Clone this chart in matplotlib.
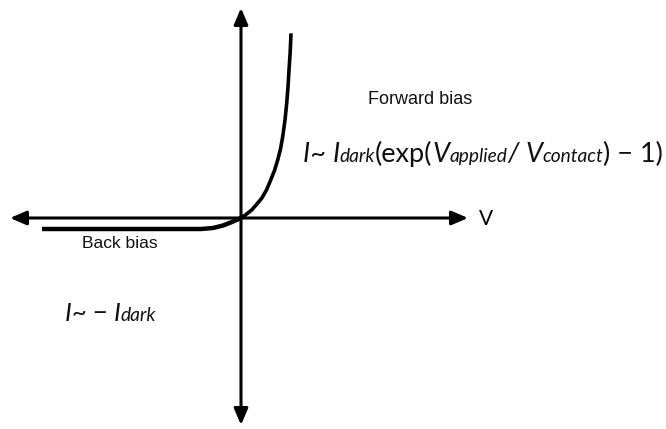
import matplotlib
matplotlib.use("Agg")
import matplotlib.pyplot as plt
from matplotlib.offsetbox import TextArea, HPacker, AnnotationBbox

# curve, pixels relative to the axes crossing
fwd_v = [0, 5, 10.7, 15.5, 20.7, 25.5, 29.7, 33.5, 36.7, 39.5, 41.7, 44, 45.7, 47, 48, 49.2, 50]
fwd_i = [0, 3.5, 8, 13.5, 19.7, 28, 38, 47.5, 58, 69, 81.3, 98, 114.7, 131, 148, 166, 184.7]
rev_v = [-199, -60, -40, -28, -18, -9, 0]
rev_i = [-11, -11, -11, -10, -7.5, -4, 0]

# arrow ends of the two axes
ax_left, ax_right = -231, 227
ax_top, ax_bottom = 210, -207

# pieces of the two formulas: (text, style, size)
fwd_formula = [("I~ ", "italic", 19.5), ("I", "italic", 19.5), ("dark", "italic", 13.8),
               ("(exp(", "normal", 19.5), ("V", "italic", 19.5), ("applied", "italic", 13.8),
               ("/ ", "italic", 19.5), ("V", "italic", 19.5), ("contact", "italic", 13.8),
               (") \u2212 1)", "normal", 19.5)]
back_formula = [("I~ \u2212 ", "italic", 18.5), ("I", "italic", 18.5), ("dark", "italic", 13.8)]

fig = plt.figure(figsize=(6.66, 4.29), dpi=100)
ax = fig.add_axes([0, 0, 1, 1])
ax.set_xlim(-241, 425)
ax.set_ylim(-211, 218)
ax.axis("off")

arrow = dict(arrowstyle="-|>,head_length=0.7,head_width=0.3", color="black",
             lw=2.2, mutation_scale=14, shrinkA=0, shrinkB=0)
for end in [(ax_left, 0), (ax_right, 0), (0, ax_top), (0, ax_bottom)]:
    ax.annotate("", xy=end, xytext=(0, 0), arrowprops=arrow)

ax.plot(fwd_v, fwd_i, color="black", lw=2.6, solid_capstyle="butt")
ax.plot(rev_v, rev_i, color="black", lw=3.2, solid_capstyle="butt")

ax.text(245, -1, "V", fontsize=15, family="Lato", ha="center", va="center")
ax.text(179, 118, "Forward bias", fontsize=13, family="Liberation Sans",
        ha="center", va="center", color="#111111")
ax.text(-121, -26, "Back bias", fontsize=12.6, family="Liberation Sans",
        ha="center", va="center", color="#111111")


def formula(pieces, xy):
    boxes = [TextArea(t, textprops=dict(fontsize=s, style=st, family="Lato", color="#111111"))
             for t, st, s in pieces]
    pack = HPacker(children=boxes, align="baseline", pad=0, sep=0)
    ab = AnnotationBbox(pack, xy, xycoords="data", box_alignment=(0, 0),
                        frameon=False, pad=0)
    ax.add_artist(ab)


formula(fwd_formula, (62, 51))
formula(back_formula, (-176, -107))

fig.savefig("out.png", dpi=100)
